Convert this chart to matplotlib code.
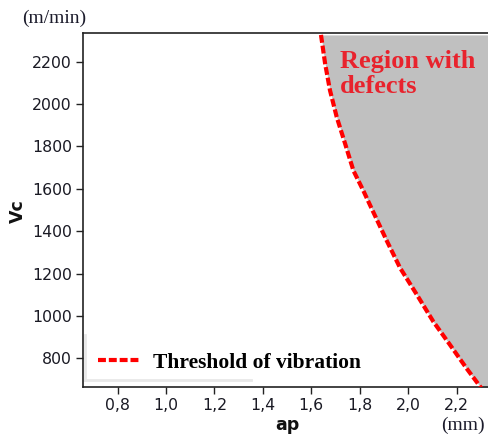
import matplotlib
matplotlib.use("Agg")
import matplotlib.pyplot as plt
from matplotlib.lines import Line2D

ap = [1.640, 1.657, 1.677, 1.705, 1.740, 1.774, 1.815, 1.850, 1.912,
      1.967, 2.036, 2.104, 2.173, 2.242, 2.304, 2.330]
vc = [2327, 2192, 2066, 1939, 1812, 1686, 1591, 1505, 1354,
      1226, 1100, 973, 863, 751, 656, 620]
xticks = [0.8, 1.0, 1.2, 1.4, 1.6, 1.8, 2.0, 2.2]
xticklabels = ["0,8", "1,0", "1,2", "1,4", "1,6", "1,8", "2,0", "2,2"]
yticks = [800, 1000, 1200, 1400, 1600, 1800, 2000, 2200]

fig = plt.figure(figsize=(4.89, 4.34), dpi=100)
ax = fig.add_axes([83/489, 47/434, 406/489, 354/434])
xmin, xmax = 0.657, 2.334
ymin, ymax = 664, 2336
ax.set_xlim(xmin, xmax)
ax.set_ylim(ymin, ymax)

ax.fill_betweenx(vc, ap, xmax + 1, color="#c0c0c0", zorder=1, lw=0)
ax.plot(ap, vc, color="#ff0000", lw=3, linestyle=(0, (1.9, 0.7)),
        label="Threshold of vibration", zorder=3)

ax.set_xticks(xticks)
ax.set_xticklabels(xticklabels)
ax.set_yticks(yticks)
ax.tick_params(direction="out", length=5, width=1, labelsize=11.3, pad=3,
               labelcolor="#1a1a24", color="#222222")
ax.spines["right"].set_visible(False)
for s in ["left", "bottom", "top"]:
    ax.spines[s].set_linewidth(1.2)
    ax.spines[s].set_color("#222222")

ax.text(1.719, 2051, "Region with\ndefects", color="#e8232d", fontsize=19,
        fontweight="bold", family="Liberation Serif", va="baseline", ha="left",
        linespacing=1.12, zorder=4)

# light grey legend frame (left and bottom edges)
ax.add_line(Line2D([0.006, 0.006], [0.02, 0.146], transform=ax.transAxes,
                   color="#e8e8e8", lw=2, zorder=2))
ax.add_line(Line2D([0.006, 0.415], [0.02, 0.02], transform=ax.transAxes,
                   color="#e8e8e8", lw=2, zorder=2))

leg = ax.legend(loc="center left", bbox_to_anchor=(0.0, 0.068), frameon=False,
                handlelength=2.0, handletextpad=0.55, borderaxespad=0.3,
                prop={"family": "Liberation Serif", "weight": "bold", "size": 15.5})

fig.text(287/489, 1 - 425/434, "ap", fontsize=12.5, fontweight="bold",
         ha="center", va="center", color="#111111")
fig.text(18/489, 1 - 211/434, "Vc", fontsize=12.5, fontweight="bold",
         ha="center", va="center", rotation=90, color="#111111")
fig.text(54/489, 1 - 18/434, "(m/min)", fontsize=14, family="Liberation Serif",
         ha="center", va="center", color="#1c1c2c")
fig.text(463/489, 1 - 425/434, "(mm)", fontsize=14, family="Liberation Serif",
         ha="center", va="center", color="#1c1c2c")

fig.savefig("out.png", dpi=100)
